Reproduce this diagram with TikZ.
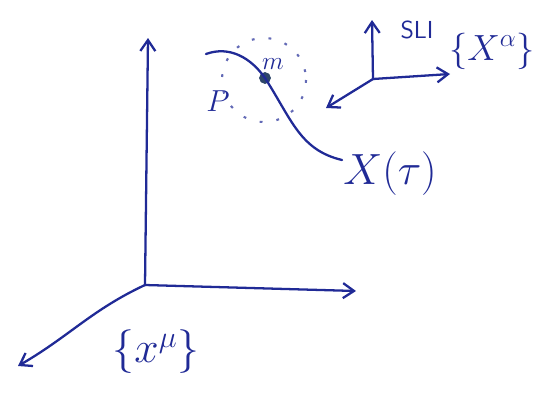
\documentclass[tikz,border=0pt]{standalone}
\usepackage{amsmath}
\usepackage{tikz}
\usepackage{xcolor}
\usetikzlibrary{arrows.meta, positioning, calc}
\definecolor{cInk}{RGB}{32,42,150}
\definecolor{cBead}{RGB}{45,70,105}
\tikzset{
	axis/.style    ={-{Straight Barb[length=2.2mm, width=3mm]}, line width=1.3pt, draw=cInk, line cap=round},
	worldline/.style={line width=1.3pt, draw=cInk, line cap=round},
	lbl/.style     ={text=cInk, inner sep=0pt},
	blob/.style    ={circle, draw=cBead, fill=cBead, minimum size=0.22cm, inner sep=0pt},
}
\begin{document}
\begin{tikzpicture}[x=0.02cm, y=-0.02cm]
	\useasboundingbox (0,0) rectangle (536,392);
	% lab frame
	\coordinate (o) at (145,285);
	\coordinate (oy) at (148,38);
	\coordinate (ox) at (356,291);
	\coordinate (oz) at (18,366);
	\draw[axis] (o) -- (oy);
	\draw[axis] (o) -- (ox);
	\draw[axis] (o) to[out=205, in=30] (oz);
	\node[lbl, font=\fontsize{27}{30}\selectfont] (xmu) at (156,352) {$\{x^{\mu}\}$};
	% world line and particle
	\node[blob] (m) at (265,78) {};
	\coordinate (w0) at (206,54);
	\coordinate (w1) at (342,160);
	\draw[worldline] (w0) to[out=20, in=125] (m.center) .. controls (292,120) and (300,150) .. (w1);
	\draw[cInk!70, line width=1.2pt, dash pattern=on 1.6pt off 8pt] (264,80) circle[radius=42];
	\node[lbl, font=\fontsize{15}{18}\selectfont] (mlbl) at (273,64) {$m$};
	\node[lbl, font=\fontsize{16}{19}\selectfont] (plbl) at (218,101) {$P$};
	\node[lbl, font=\fontsize{24}{28}\selectfont] (xtau) at (390,174) {$X(\tau)$};
	% local frame
	\coordinate (s) at (373,79);
	\coordinate (sy) at (372,20);
	\coordinate (sx) at (450,74);
	\coordinate (sz) at (326,108);
	\draw[axis] (s) -- (sy);
	\draw[axis] (s) -- (sx);
	\draw[axis] (s) -- (sz);
	\node[lbl, font=\sffamily\fontsize{14}{16}\selectfont] (sli) at (417,30) {SLI};
	\node[lbl, font=\fontsize{22}{26}\selectfont] (xal) at (492,51) {$\{X^{\alpha}\}$};
\end{tikzpicture}
\end{document}
